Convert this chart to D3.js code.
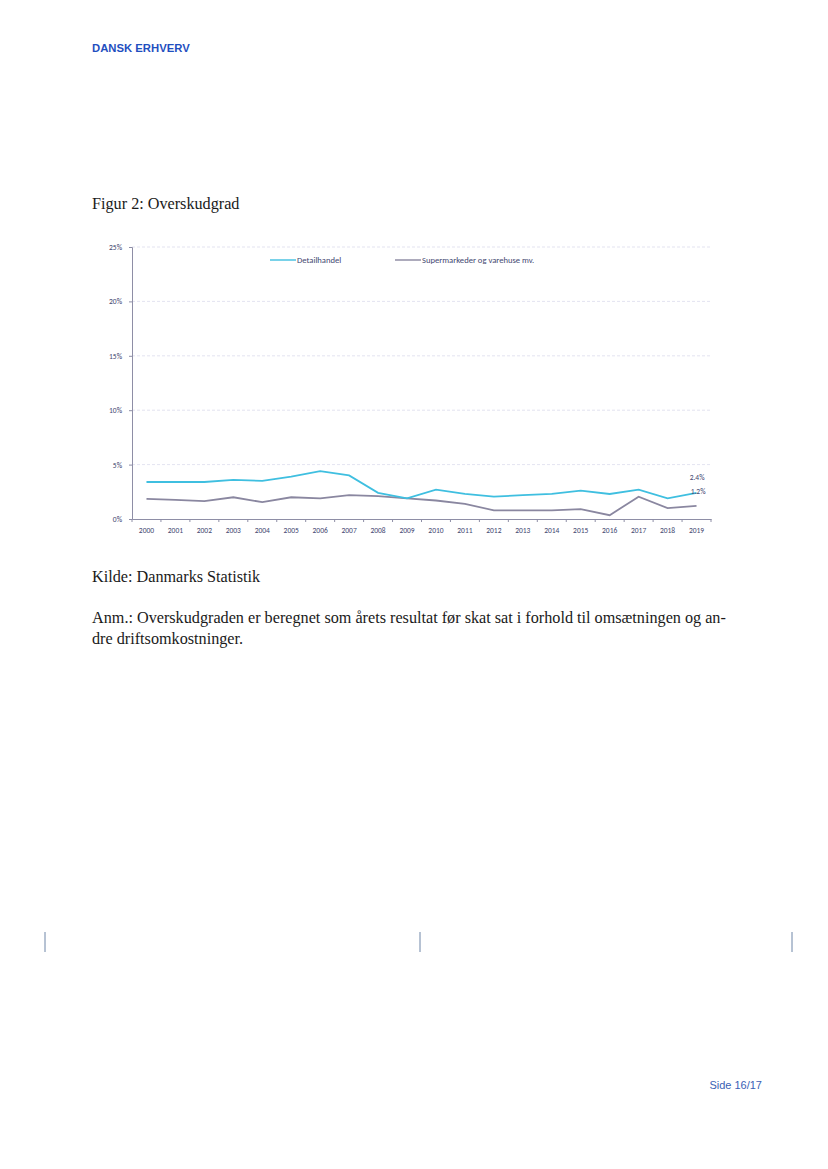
<!DOCTYPE html>
<html><head><meta charset="utf-8">
<script src="https://cdn.jsdelivr.net/npm/d3@7"></script>
<style>
html,body{margin:0;padding:0;background:#fff;}
svg{display:block;}
</style></head>
<body>
<svg id="page" width="828" height="1169"></svg>
<script>
const years = ["2000","2001","2002","2003","2004","2005","2006","2007","2008","2009","2010","2011","2012","2013","2014","2015","2016","2017","2018","2019"];
const detailhandel = [3.4,3.4,3.4,3.6,3.5,3.9,4.4,4.0,2.4,1.9,2.7,2.3,2.05,2.2,2.3,2.6,2.3,2.7,1.9,2.4];
const supermarkeder = [1.85,1.75,1.65,2.0,1.55,2.0,1.9,2.2,2.1,1.9,1.7,1.4,0.8,0.8,0.8,0.9,0.35,2.05,1.0,1.2];
const seriesNames = ["Detailhandel","Supermarkeder og varehuse mv."];
const yTicks = [0,5,10,15,20,25];

const svg = d3.select("#page");
const serif = "'Liberation Serif','DejaVu Serif',serif";
const sans = "'Liberation Sans',Arial,sans-serif";
const chartFont = "Carlito,'Open Sans','DejaVu Sans',sans-serif";
const chartText = "#414670";

// header / footer
svg.append("text").attr("x",92).attr("y",52).attr("font-family",sans).attr("font-weight","bold")
  .attr("font-size",11.3).attr("fill","#1f4fbf").text("DANSK ERHVERV");
svg.append("text").attr("x",762).attr("y",1089).attr("text-anchor","end").attr("font-family",sans)
  .attr("font-size",11).attr("fill","#3a5fb5").text("Side 16/17");
[45,420,792].forEach(xp=>{
  svg.append("line").attr("x1",xp).attr("x2",xp).attr("y1",932).attr("y2",952)
    .attr("stroke","#6f86a8").attr("stroke-width",1);
});

const bodySize = 16.2;
svg.append("text").attr("x",92).attr("y",209).attr("font-family",serif).attr("font-size",bodySize)
  .attr("fill","#1a1a1a").text("Figur 2: Overskudgrad");

svg.append("text").attr("x",92).attr("y",582).attr("font-family",serif).attr("font-size",bodySize)
  .attr("fill","#1a1a1a").text("Kilde: Danmarks Statistik");
svg.append("text").attr("x",92).attr("y",623).attr("font-family",serif).attr("font-size",bodySize)
  .attr("fill","#1a1a1a").text("Anm.: Overskudgraden er beregnet som årets resultat før skat sat i forhold til omsætningen og an-");
svg.append("text").attr("x",92).attr("y",644).attr("font-family",serif).attr("font-size",bodySize)
  .attr("fill","#1a1a1a").text("dre driftsomkostninger.");

// chart
const pLeft=132, pRight=711, pTop=247, pBottom=519;
const x = d3.scaleBand().domain(years).range([pLeft,pRight]);
const y = d3.scaleLinear().domain([0,25]).range([pBottom,pTop]);

const g = svg.append("g");
// gridlines
g.selectAll("line.grid").data(yTicks.filter(d=>d>0)).join("line")
  .attr("x1",pLeft).attr("x2",pRight).attr("y1",d=>y(d)).attr("y2",d=>y(d))
  .attr("stroke","#dcdcec").attr("stroke-width",0.8).attr("stroke-dasharray","3,2");

// y axis
const yAxis = g.append("g").attr("transform",`translate(${pLeft},0)`)
  .call(d3.axisLeft(y).tickValues(yTicks).tickFormat(d=>d+"%").tickSize(3).tickPadding(7));
yAxis.select(".domain").attr("stroke","#8e8ea6");
yAxis.selectAll(".tick line").attr("stroke","#8e8ea6");
yAxis.selectAll("text").attr("font-family",chartFont).attr("font-size",7.5).attr("fill",chartText);

// x axis
const xAxis = g.append("g").attr("transform",`translate(0,${pBottom})`)
  .call(d3.axisBottom(x).tickSize(0).tickPadding(9));
xAxis.select(".domain").attr("stroke","#8e8ea6");
xAxis.selectAll("text").attr("font-family",chartFont).attr("font-size",7.5).attr("fill",chartText);
g.selectAll("line.xtick").data(years.concat(["end"])).join("line")
  .attr("x1",(d,i)=>pLeft+i*x.step()).attr("x2",(d,i)=>pLeft+i*x.step())
  .attr("y1",pBottom).attr("y2",pBottom+3).attr("stroke","#8e8ea6");

const line = d3.line().x((d,i)=>x(years[i])+x.bandwidth()/2).y(d=>y(d));
g.append("path").datum(supermarkeder).attr("d",line).attr("fill","none")
  .attr("stroke","#8a87a0").attr("stroke-width",1.8);
g.append("path").datum(detailhandel).attr("d",line).attr("fill","none")
  .attr("stroke","#3fbfe0").attr("stroke-width",1.8);

// end labels
const lastX = x(years[years.length-1])+x.bandwidth()/2;
g.append("text").attr("x",lastX+8).attr("y",y(detailhandel[19])-13).attr("text-anchor","end")
  .attr("font-family",chartFont).attr("font-size",7.5).attr("fill",chartText)
  .text(detailhandel[19].toFixed(1)+"%");
g.append("text").attr("x",lastX+9).attr("y",y(supermarkeder[19])-12).attr("text-anchor","end")
  .attr("font-family",chartFont).attr("font-size",7.5).attr("fill",chartText)
  .text(supermarkeder[19].toFixed(1)+"%");

// legend
const legendColors = ["#3fbfe0","#8a87a0"];
const legendX = [270,395];
seriesNames.forEach((n,i)=>{
  g.append("line").attr("x1",legendX[i]).attr("x2",legendX[i]+26).attr("y1",260).attr("y2",260)
    .attr("stroke",legendColors[i]).attr("stroke-width",1.4);
  g.append("text").attr("x",legendX[i]+27).attr("y",262.8).attr("font-family",chartFont)
    .attr("font-size",8.6).attr("fill",chartText).text(n);
});
</script>
</body></html>
